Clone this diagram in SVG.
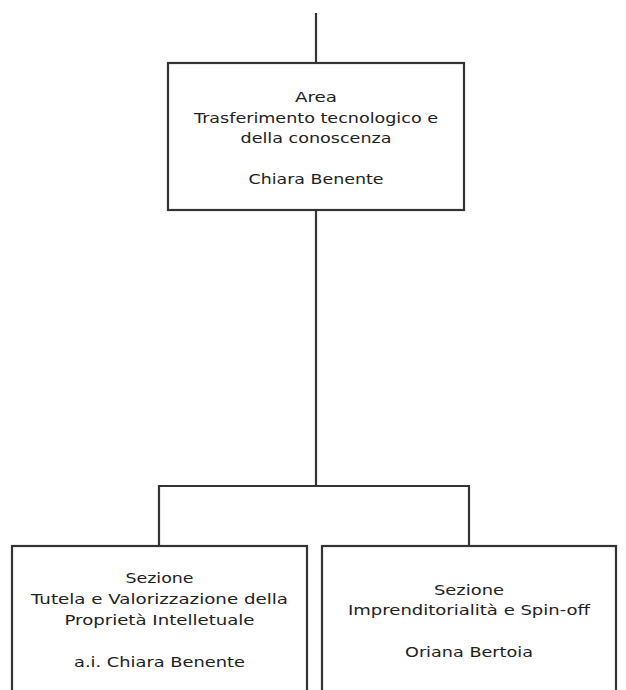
<svg xmlns="http://www.w3.org/2000/svg" width="626" height="690" viewBox="0 0 626 690">
<style>
.box{fill:#fff;stroke:#333;stroke-width:2.2}
.ln{fill:none;stroke:#333;stroke-width:2.2}
text{font-family:"DejaVu Sans",Verdana,sans-serif;font-size:14.5px;fill:#222;text-anchor:middle}
</style>
<rect width="626" height="690" fill="#fff"/>
<g id="connectors">
<line class="ln" x1="316" y1="13" x2="316" y2="63"/>
<line class="ln" x1="316" y1="210" x2="316" y2="486"/>
<polyline class="ln" points="159,546 159,486 469,486 469,546"/>
</g>
<g id="area">
<rect class="box" x="168" y="63" width="296" height="147"/>
<text x="316" y="102" textLength="42" lengthAdjust="spacingAndGlyphs">Area</text>
<text x="316" y="123" textLength="244" lengthAdjust="spacingAndGlyphs">Trasferimento tecnologico e</text>
<text x="316" y="143" textLength="151" lengthAdjust="spacingAndGlyphs">della conoscenza</text>
<text x="316" y="184" textLength="135" lengthAdjust="spacingAndGlyphs">Chiara Benente</text>
</g>
<g id="sezione-tutela">
<rect class="box" x="12" y="546" width="295" height="160"/>
<text x="159.5" y="583" textLength="68" lengthAdjust="spacingAndGlyphs">Sezione</text>
<text x="159.5" y="604" textLength="257" lengthAdjust="spacingAndGlyphs">Tutela e Valorizzazione della</text>
<text x="159.5" y="625" textLength="190" lengthAdjust="spacingAndGlyphs">Proprietà Intelletuale</text>
<text x="159.5" y="667" textLength="171" lengthAdjust="spacingAndGlyphs">a.i. Chiara Benente</text>
</g>
<g id="sezione-impr">
<rect class="box" x="322" y="546" width="294" height="160"/>
<text x="469" y="595" textLength="70" lengthAdjust="spacingAndGlyphs">Sezione</text>
<text x="469" y="615" textLength="242" lengthAdjust="spacingAndGlyphs">Imprenditorialità e Spin-off</text>
<text x="469" y="657" textLength="128" lengthAdjust="spacingAndGlyphs">Oriana Bertoia</text>
</g>
</svg>
